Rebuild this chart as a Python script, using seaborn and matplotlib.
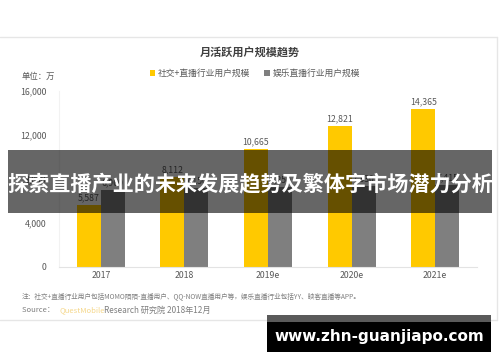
import matplotlib
matplotlib.use("Agg")
import matplotlib.pyplot as plt
import seaborn as sns
import pandas as pd
from matplotlib.patches import Rectangle
from matplotlib.lines import Line2D

years = ["2017", "2018", "2019e", "2020e", "2021e"]
social_live = [5587, 8112, 10665, 12821, 14365]
ent_live = [6960, 7150, 7250, 7330, 7415]
series_names = ["社交+直播行业用户规模", "娱乐直播行业用户规模"]
y_ticks = [0, 4000, 8000, 12000, 16000]

sns.set_theme(style="white")
plt.rcParams['font.family'] = ['Noto Sans CJK SC', 'DejaVu Sans']

df = pd.DataFrame({
    "year": years * 2,
    "value": social_live + ent_live,
    "series": [series_names[0]] * len(years) + [series_names[1]] * len(years),
})

fig = plt.figure(figsize=(5, 3.62), dpi=100)
W, H = 500, 362
def fx(x): return x / W
def fy(y): return 1 - y / H

ax = fig.add_axes([fx(59), fy(266.7), (477 - 59) / W, (266.7 - 90.7) / H])
sns.barplot(data=df, x="year", y="value", hue="series", ax=ax,
            palette=["#FFC900", "#7F7F7F"], width=0.575, saturation=1,
            linewidth=0)
ax.set_xlim(-0.5, 4.5)
ax.set_ylim(0, 16000)
ax.set_yticks(y_ticks)
ax.set_yticklabels([f"{v:,}" for v in y_ticks], fontsize=6.3, color="#595959")
ax.tick_params(axis="x", labelsize=6.3, colors="#595959", pad=3, length=0)
ax.tick_params(axis="y", pad=9, length=0)
ax.set_xlabel("")
ax.set_ylabel("")
for c in ax.containers:
    ax.bar_label(c, labels=[f"{int(v):,}" for v in c.datavalues],
                 fontsize=6.3, color="#595959", padding=2)
for s in ["top", "right"]:
    ax.spines[s].set_visible(False)
ax.spines["left"].set_color("#f2f2f2")
ax.spines["bottom"].set_color("#e3e3e3")
ax.spines["left"].set_linewidth(0.8)
ax.spines["bottom"].set_linewidth(0.8)

handles, labels = ax.get_legend_handles_labels()
ax.legend(handles, labels, ncol=2, frameon=False, loc="center",
          bbox_to_anchor=(fx(255), fy(73.5)), bbox_transform=fig.transFigure,
          handlelength=0.6, handleheight=0.6, handletextpad=0.3,
          columnspacing=1.6, fontsize=6.3, labelcolor="#595959")

# frame lines
fig.add_artist(Line2D([0, fx(497)], [fy(37), fy(37)], color="#e6e6e6", lw=1))
fig.add_artist(Line2D([0, fx(497)], [fy(320), fy(320)], color="#e6e6e6", lw=1))
fig.add_artist(Line2D([fx(497), fx(497)], [fy(37), fy(320)], color="#e6e6e6", lw=1))

fig.text(fx(250), fy(53), "月活跃用户规模趋势", ha="center", va="center",
         fontsize=8, fontweight="bold", color="#404040")
fig.text(fx(38), fy(76), "单位：万", ha="center", va="center",
         fontsize=6, color="#595959")
fig.text(fx(22), fy(296), "注：社交+直播行业用户包括MOMO陌陌-直播用户、QQ-NOW直播用户等，娱乐直播行业包括YY、映客直播等APP。",
         ha="left", va="center", fontsize=4.8, color="#7f7f7f")
fig.text(fx(22), fy(310), "Source： ", ha="left", va="center",
         fontsize=5.5, color="#7f7f7f")
fig.text(fx(60), fy(310), "QuestMobile", ha="left", va="center",
         fontsize=5.5, color="#f5d78a")
fig.text(fx(104), fy(310), "Research 研究院 2018年12月", ha="left", va="center",
         fontsize=5.9, color="#7f7f7f")

# banner overlay
fig.add_artist(Rectangle((fx(8), fy(213)), fx(484), (213 - 150) / H,
                         transform=fig.transFigure, facecolor="black",
                         alpha=0.6, edgecolor="none", zorder=10))
fig.text(fx(250), fy(184), "探索直播产业的未来发展趋势及繁体字市场潜力分析",
         ha="center", va="center", fontsize=15.2, fontweight="bold",
         color="white", zorder=11)

# watermark box
fig.add_artist(Rectangle((fx(267), fy(352)), fx(224), (352 - 315) / H,
                         transform=fig.transFigure, facecolor="black",
                         edgecolor="none", zorder=10))
fig.add_artist(Rectangle((fx(267), fy(322)), fx(224), (322 - 315) / H,
                         transform=fig.transFigure, facecolor="#5a5a5a",
                         edgecolor="none", zorder=10))
fig.text(fx(379), fy(337), "www.zhn-guanjiapo.com", ha="center", va="center",
         fontsize=11, fontweight="bold", color="white",
         family=["DejaVu Sans"], zorder=11)

fig.savefig("out.png", dpi=100)
